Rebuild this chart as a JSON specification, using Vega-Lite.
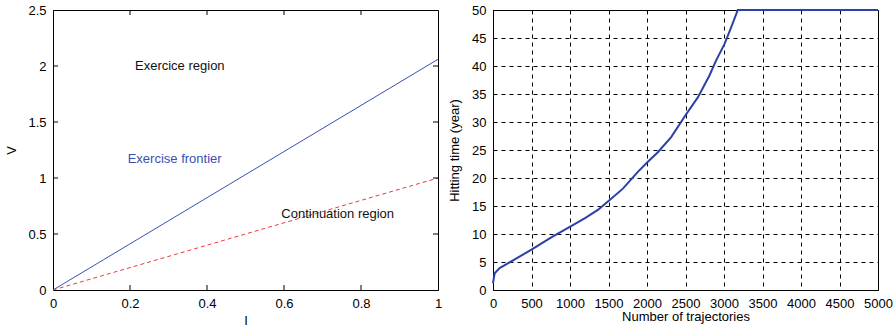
{
  "$schema": "https://vega.github.io/schema/vega-lite/v6.json",
  "padding": {"left": 5, "top": 3, "right": 0, "bottom": 5},
  "spacing": 5,
  "config": {
    "font": "Liberation Sans",
    "view": {"stroke": "black", "strokeWidth": 1},
    "axis": {
      "domainColor": "black", "tickColor": "black", "labelColor": "black", "titleColor": "black",
      "labelFont": "Liberation Sans", "titleFont": "Liberation Sans",
      "labelFontSize": 13, "titleFontSize": 13, "titleFontWeight": "normal",
      "grid": false, "labelFlush": false, "labelOverlap": false
    }
  },
  "datasets": {
    "frontier": [{"I": 0, "V": 0}, {"I": 1, "V": 2.06}],
    "continuation": [{"I": 0, "V": 0}, {"I": 1, "V": 1.0}],
    "labels": [
      {"I": 0.213, "V": 2.0, "label": "Exercice region", "kind": "region"},
      {"I": 0.194, "V": 1.17, "label": "Exercise frontier", "kind": "frontier"},
      {"I": 0.593, "V": 0.68, "label": "Continuation region", "kind": "region"}
    ],
    "iticks": [{"I": 0.2}, {"I": 0.4}, {"I": 0.6}, {"I": 0.8}],
    "vticks": [{"V": 0.5}, {"V": 1}, {"V": 1.5}, {"V": 2}],
    "hitting": [
      {"n": 0, "t": 1.2}, {"n": 22, "t": 3.0}, {"n": 86, "t": 3.9}, {"n": 260, "t": 5.3},
      {"n": 500, "t": 7.2}, {"n": 757, "t": 9.4}, {"n": 1003, "t": 11.3}, {"n": 1190, "t": 12.8},
      {"n": 1362, "t": 14.3}, {"n": 1500, "t": 15.9}, {"n": 1687, "t": 18.1}, {"n": 1881, "t": 21.1},
      {"n": 2011, "t": 22.9}, {"n": 2141, "t": 24.6}, {"n": 2314, "t": 27.3}, {"n": 2500, "t": 31.2},
      {"n": 2660, "t": 34.4}, {"n": 2811, "t": 38.3}, {"n": 2898, "t": 41.0}, {"n": 3006, "t": 43.9},
      {"n": 3093, "t": 46.9}, {"n": 3179, "t": 50}, {"n": 5000, "t": 50}
    ]
  },
  "hconcat": [
    {
      "width": 385, "height": 280,
      "layer": [
        {
          "data": {"name": "frontier"},
          "mark": {"type": "line", "color": "#3b4fb5", "strokeWidth": 1},
          "encoding": {
            "x": {"field": "I", "type": "quantitative", "scale": {"domain": [0, 1], "nice": false},
                  "axis": {"title": "I", "format": "~g", "values": [0, 0.2, 0.4, 0.6, 0.8, 1], "ticks": false, "labelPadding": 7, "titlePadding": 4}},
            "y": {"field": "V", "type": "quantitative", "scale": {"domain": [0, 2.5], "nice": false},
                  "axis": {"title": "V", "format": "~g", "values": [0, 0.5, 1, 1.5, 2, 2.5], "ticks": false, "labelPadding": 7, "titlePadding": 9}}
          }
        },
        {
          "data": {"name": "continuation"},
          "mark": {"type": "line", "color": "#ee3b36", "strokeWidth": 1, "strokeDash": [4, 3]},
          "encoding": {
            "x": {"field": "I", "type": "quantitative"},
            "y": {"field": "V", "type": "quantitative"}
          }
        },
        {
          "data": {"name": "labels"},
          "mark": {"type": "text", "align": "left", "baseline": "middle", "fontSize": 13, "font": "Liberation Sans"},
          "encoding": {
            "x": {"field": "I", "type": "quantitative"},
            "y": {"field": "V", "type": "quantitative"},
            "text": {"field": "label"},
            "color": {"field": "kind", "type": "nominal", "scale": {"domain": ["region", "frontier"], "range": ["#111111", "#3b4fb5"]}, "legend": null}
          }
        },
        {
          "data": {"name": "iticks"},
          "mark": {"type": "tick", "orient": "vertical", "color": "black", "thickness": 1, "size": 10, "clip": true, "opacity": 1},
          "encoding": {"x": {"field": "I", "type": "quantitative"}, "y": {"datum": 0}}
        },
        {
          "data": {"name": "iticks"},
          "mark": {"type": "tick", "orient": "vertical", "color": "black", "thickness": 1, "size": 10, "clip": true, "opacity": 1},
          "encoding": {"x": {"field": "I", "type": "quantitative"}, "y": {"datum": 2.5}}
        },
        {
          "data": {"name": "vticks"},
          "mark": {"type": "tick", "orient": "horizontal", "color": "black", "thickness": 1, "size": 10, "clip": true, "opacity": 1},
          "encoding": {"y": {"field": "V", "type": "quantitative"}, "x": {"datum": 0}}
        },
        {
          "data": {"name": "vticks"},
          "mark": {"type": "tick", "orient": "horizontal", "color": "black", "thickness": 1, "size": 10, "clip": true, "opacity": 1},
          "encoding": {"y": {"field": "V", "type": "quantitative"}, "x": {"datum": 1}}
        }
      ]
    },
    {
      "width": 385, "height": 280,
      "data": {"name": "hitting"},
      "mark": {"type": "line", "color": "#2c40a6", "strokeWidth": 2},
      "encoding": {
        "x": {"field": "n", "type": "quantitative", "scale": {"domain": [0, 5000], "nice": false},
              "axis": {"title": "Number of trajectories", "format": "d", "values": [0, 500, 1000, 1500, 2000, 2500, 3000, 3500, 4000, 4500, 5000],
                       "grid": true, "gridColor": "black", "gridDash": [4, 4], "gridOpacity": 1, "ticks": false, "labelPadding": 7, "titlePadding": 0}},
        "y": {"field": "t", "type": "quantitative", "scale": {"domain": [0, 50], "nice": false},
              "axis": {"title": "Hitting time (year)", "format": "d", "values": [0, 5, 10, 15, 20, 25, 30, 35, 40, 45, 50],
                       "grid": true, "gridColor": "black", "gridDash": [4, 4], "gridOpacity": 1, "ticks": false, "labelPadding": 7, "titlePadding": 10}}
      }
    }
  ]
}
